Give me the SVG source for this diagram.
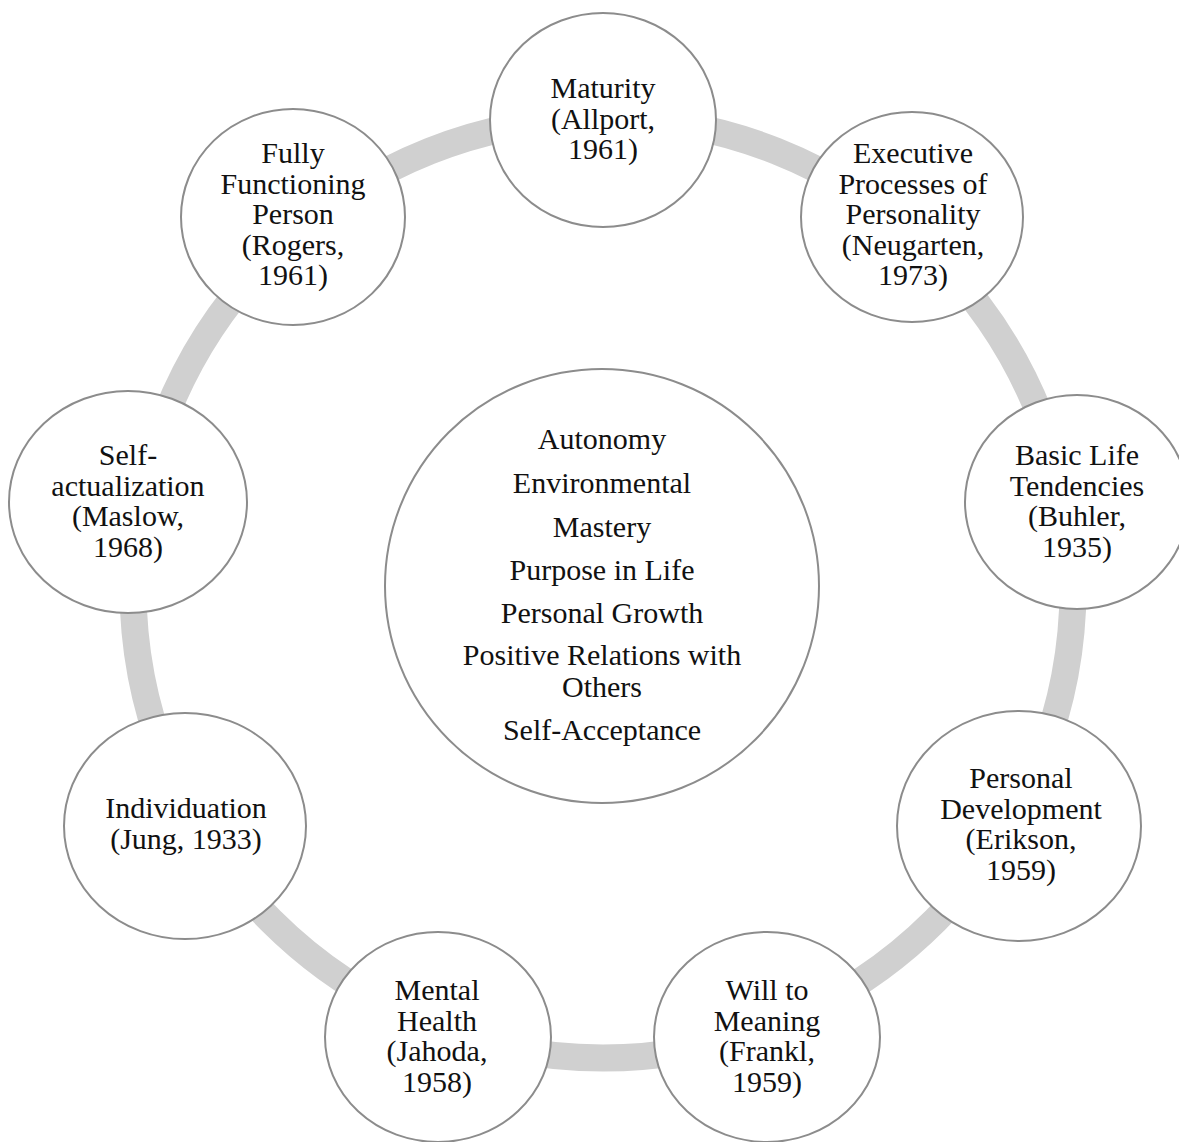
<svg xmlns="http://www.w3.org/2000/svg" width="1179" height="1142" viewBox="0 0 1179 1142">
<style>
.node{fill:#ffffff;stroke:#8c8c8c;stroke-width:2}
.ring{fill:none;stroke:#d0d0d0;stroke-width:27}
text{font-family:"Liberation Serif","Times New Roman",serif;font-size:30px;fill:#111111;text-anchor:middle}
</style>
<rect width="1179" height="1142" fill="#ffffff"/>
<g id="connectors">
<circle class="ring" cx="603" cy="588" r="470"/>
</g>
<g id="center">
<circle class="node" cx="602" cy="586" r="217"/>
<text x="602"><tspan x="602" y="449">Autonomy</tspan><tspan x="602" y="493">Environmental</tspan><tspan x="602" y="537">Mastery</tspan><tspan x="602" y="580">Purpose in Life</tspan><tspan x="602" y="623">Personal Growth</tspan><tspan x="602" y="665">Positive Relations with</tspan><tspan x="602" y="697">Others</tspan><tspan x="602" y="740">Self-Acceptance</tspan></text>
</g>
<g id="maturity">
<ellipse class="node" cx="603" cy="120" rx="113" ry="107"/>
<text><tspan x="603" y="98">Maturity</tspan><tspan x="603" y="129">(Allport,</tspan><tspan x="603" y="159">1961)</tspan></text>
</g>
<g id="executive">
<ellipse class="node" cx="912" cy="217" rx="111" ry="105"/>
<text><tspan x="913" y="163">Executive</tspan><tspan x="913" y="193.5">Processes of</tspan><tspan x="913" y="224">Personality</tspan><tspan x="913" y="254.5">(Neugarten,</tspan><tspan x="913" y="285">1973)</tspan></text>
</g>
<g id="basic-life">
<ellipse class="node" cx="1077" cy="502" rx="112" ry="107"/>
<text><tspan x="1077" y="465">Basic Life</tspan><tspan x="1077" y="495.5">Tendencies</tspan><tspan x="1077" y="526">(Buhler,</tspan><tspan x="1077" y="556.5">1935)</tspan></text>
</g>
<g id="personal-development">
<ellipse class="node" cx="1019" cy="826" rx="122" ry="115"/>
<text><tspan x="1021" y="788">Personal</tspan><tspan x="1021" y="818.5">Development</tspan><tspan x="1021" y="849">(Erikson,</tspan><tspan x="1021" y="879.5">1959)</tspan></text>
</g>
<g id="will-to-meaning">
<ellipse class="node" cx="767" cy="1037" rx="113" ry="105"/>
<text><tspan x="767" y="1000">Will to</tspan><tspan x="767" y="1030.5">Meaning</tspan><tspan x="767" y="1061">(Frankl,</tspan><tspan x="767" y="1091.5">1959)</tspan></text>
</g>
<g id="mental-health">
<ellipse class="node" cx="438" cy="1037" rx="113" ry="105"/>
<text><tspan x="437" y="1000">Mental</tspan><tspan x="437" y="1030.5">Health</tspan><tspan x="437" y="1061">(Jahoda,</tspan><tspan x="437" y="1091.5">1958)</tspan></text>
</g>
<g id="individuation">
<ellipse class="node" cx="185" cy="826" rx="121" ry="113"/>
<text><tspan x="186" y="818">Individuation</tspan><tspan x="186" y="849">(Jung, 1933)</tspan></text>
</g>
<g id="self-actualization">
<ellipse class="node" cx="128" cy="502" rx="119" ry="111"/>
<text><tspan x="128" y="465">Self-</tspan><tspan x="128" y="495.5">actualization</tspan><tspan x="128" y="526">(Maslow,</tspan><tspan x="128" y="556.5">1968)</tspan></text>
</g>
<g id="fully-functioning">
<ellipse class="node" cx="293" cy="217" rx="112" ry="108"/>
<text><tspan x="293" y="163">Fully</tspan><tspan x="293" y="193.5">Functioning</tspan><tspan x="293" y="224">Person</tspan><tspan x="293" y="254.5">(Rogers,</tspan><tspan x="293" y="285">1961)</tspan></text>
</g>
</svg>
